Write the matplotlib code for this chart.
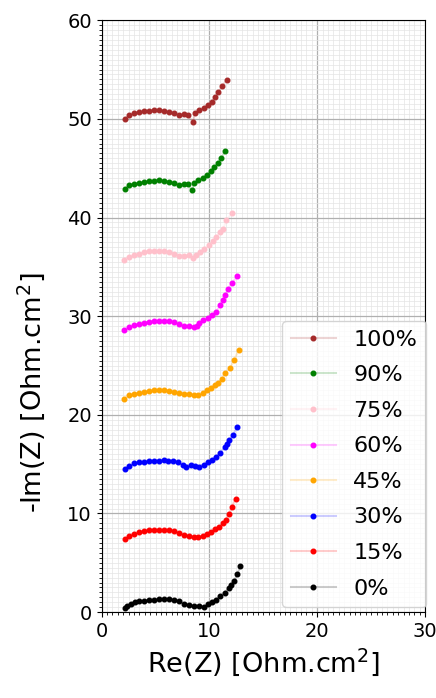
import numpy as np
import matplotlib
matplotlib.use('Agg')
import matplotlib.pyplot as plt
from matplotlib.ticker import MultipleLocator
from matplotlib.colors import to_rgba

labels = ['100%', '90%', '75%', '60%', '45%', '30%', '15%', '0%']
colors = ['brown', 'green', 'pink', 'magenta', 'orange', 'blue', 'red', 'black']

re_100 = [2.16, 2.56, 3.02, 3.49, 3.95, 4.42, 4.88, 5.35, 5.81, 6.28, 6.74, 7.21, 7.67, 8.05, 8.45, 8.67, 9.07, 9.47, 9.85, 10.22, 10.53, 10.84, 11.15, 11.64]
im_100 = [50.02, 50.35, 50.59, 50.69, 50.76, 50.83, 50.86, 50.86, 50.83, 50.73, 50.59, 50.35, 50.46, 50.35, 49.67, 50.59, 50.86, 51.13, 51.37, 51.70, 52.21, 52.72, 53.29, 53.97]

re_90 = [2.16, 2.56, 3.02, 3.49, 3.95, 4.42, 4.88, 5.35, 5.81, 6.28, 6.74, 7.21, 7.67, 8.05, 8.35, 8.60, 8.98, 9.38, 9.78, 10.16, 10.47, 10.78, 11.09, 11.49]
im_90 = [42.93, 43.26, 43.43, 43.53, 43.60, 43.67, 43.74, 43.84, 43.74, 43.64, 43.50, 43.33, 43.43, 43.36, 42.76, 43.50, 43.77, 44.04, 44.35, 44.68, 45.12, 45.52, 46.07, 46.71]

re_75 = [2.09, 2.56, 3.02, 3.49, 3.95, 4.42, 4.88, 5.35, 5.81, 6.28, 6.74, 7.21, 7.67, 8.08, 8.45, 8.76, 9.13, 9.53, 9.94, 10.31, 10.62, 10.99, 11.30, 11.55, 12.11]
im_75 = [35.73, 36.00, 36.17, 36.34, 36.47, 36.58, 36.61, 36.61, 36.61, 36.55, 36.34, 36.10, 36.07, 36.17, 35.94, 36.17, 36.51, 36.85, 37.18, 37.62, 38.02, 38.53, 38.87, 39.72, 40.46]

re_60 = [2.09, 2.56, 3.02, 3.49, 3.95, 4.42, 4.88, 5.35, 5.81, 6.28, 6.74, 7.21, 7.67, 8.14, 8.60, 8.82, 9.07, 9.44, 9.85, 10.25, 10.62, 10.99, 11.24, 11.49, 11.71, 12.11, 12.57]
im_60 = [28.64, 28.91, 29.08, 29.21, 29.35, 29.45, 29.51, 29.55, 29.55, 29.48, 29.38, 29.18, 29.05, 28.98, 28.91, 29.05, 29.31, 29.58, 29.86, 30.12, 30.43, 31.10, 31.61, 32.19, 32.80, 33.36, 34.04]

re_45 = [2.09, 2.56, 3.02, 3.49, 3.95, 4.42, 4.88, 5.35, 5.81, 6.28, 6.74, 7.21, 7.67, 8.14, 8.60, 8.98, 9.38, 9.78, 10.16, 10.53, 10.84, 11.15, 11.49, 11.93, 12.27, 12.73]
im_45 = [21.65, 21.99, 22.16, 22.26, 22.32, 22.39, 22.49, 22.56, 22.56, 22.42, 22.32, 22.22, 22.16, 22.09, 22.06, 21.99, 22.26, 22.49, 22.77, 23.00, 23.27, 23.68, 24.25, 24.75, 25.53, 26.62]

re_30 = [2.16, 2.56, 3.02, 3.49, 3.95, 4.42, 4.88, 5.35, 5.75, 6.12, 6.59, 7.05, 7.52, 7.83, 8.30, 8.67, 9.07, 9.47, 9.85, 10.22, 10.62, 11.02, 11.40, 11.64, 11.86, 12.17, 12.57]
im_30 = [14.46, 14.79, 15.07, 15.17, 15.27, 15.33, 15.33, 15.37, 15.43, 15.37, 15.33, 15.23, 14.92, 14.76, 14.96, 14.79, 14.76, 14.96, 15.20, 15.47, 15.73, 16.14, 16.69, 17.02, 17.43, 17.93, 18.77]

re_15 = [2.16, 2.56, 3.02, 3.49, 3.95, 4.42, 4.88, 5.35, 5.81, 6.28, 6.74, 7.21, 7.67, 8.14, 8.60, 8.98, 9.38, 9.78, 10.16, 10.53, 10.93, 11.24, 11.55, 11.80, 12.08, 12.42]
im_15 = [7.37, 7.70, 7.97, 8.11, 8.21, 8.28, 8.31, 8.31, 8.31, 8.31, 8.24, 8.04, 7.77, 7.67, 7.63, 7.57, 7.70, 7.90, 8.11, 8.38, 8.64, 8.99, 9.39, 9.93, 10.67, 11.52]

re_0 = [2.16, 2.40, 2.71, 3.09, 3.49, 3.95, 4.42, 4.88, 5.35, 5.81, 6.28, 6.74, 7.21, 7.67, 8.14, 8.60, 9.07, 9.47, 9.85, 10.22, 10.62, 11.02, 11.40, 11.77, 12.02, 12.27, 12.57, 12.88]
im_0 = [0.37, 0.64, 0.84, 1.01, 1.08, 1.15, 1.22, 1.28, 1.32, 1.32, 1.32, 1.28, 1.11, 0.84, 0.68, 0.64, 0.64, 0.54, 0.78, 1.05, 1.28, 1.65, 1.99, 2.40, 2.74, 3.14, 3.82, 4.66]

re_all = [re_100, re_90, re_75, re_60, re_45, re_30, re_15, re_0]
im_all = [im_100, im_90, im_75, im_60, im_45, im_30, im_15, im_0]

fig, ax = plt.subplots(figsize=(4.36, 6.98), dpi=100)
fig.subplots_adjust(left=0.233, right=0.975, top=0.971, bottom=0.123)

for x, y, c, lab in zip(re_all, im_all, colors, labels):
    ax.plot(x, y, '-o', color=to_rgba(c, 0.2), markerfacecolor=c,
            markeredgecolor=c, markersize=3.3, lw=1.5, label=lab)

ax.set_xlim(0, 30)
ax.set_ylim(0, 60)
ax.xaxis.set_major_locator(MultipleLocator(10))
ax.yaxis.set_major_locator(MultipleLocator(10))
ax.xaxis.set_minor_locator(MultipleLocator(0.5))
ax.yaxis.set_minor_locator(MultipleLocator(0.5))
ax.grid(which='major', color='#b0b0b0', lw=0.9)
ax.grid(which='minor', color='#e4e4e4', lw=0.5)
ax.tick_params(labelsize=14)
ax.set_xlabel('Re(Z) [Ohm.cm$^2$]', fontsize=19.5)
ax.set_ylabel('-Im(Z) [Ohm.cm$^2$]', fontsize=19.5)
ax.yaxis.set_label_coords(-0.17, 0.37)
ax.legend(loc='lower right', bbox_to_anchor=(1.003, 0.008), borderaxespad=0,
          fontsize=16, labelspacing=0.7)

plt.savefig('out.png')
